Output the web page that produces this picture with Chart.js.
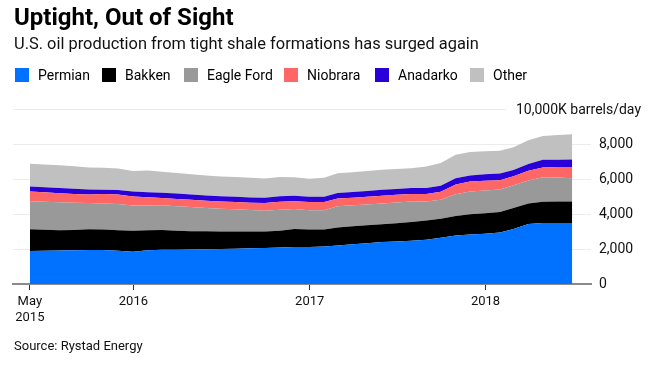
<!DOCTYPE html>
<html>
<head>
<meta charset="utf-8">
<script src="https://cdn.jsdelivr.net/npm/chart.js@4"></script>
<style>
  body { margin: 0; background: #fff; font-family: Roboto, sans-serif; color: #000; }
  #wrap { position: relative; width: 651px; height: 369px; overflow: hidden; }
  #c { position: absolute; left: 0; top: 0; }
  .title { position: absolute; left: 14px; top: 3px; font-size: 24px; font-weight: 700; }
  .sub { position: absolute; left: 14px; top: 34px; font-size: 16.4px; color: #111; }
  .legend { position: absolute; left: 15px; top: 66px; font-size: 14px; }
  .legend span { position: absolute; top: 0; white-space: nowrap; line-height: 18px; }
  .legend i { position: absolute; top: 2px; width: 14px; height: 14px; }
  .src { position: absolute; left: 14px; top: 338px; font-size: 13px; color: #111; }
</style>
</head>
<body>
<div id="wrap">
  <canvas id="c" width="651" height="369"></canvas>
  <div class="title">Uptight, Out of Sight</div>
  <div class="sub">U.S. oil production from tight shale formations has surged again</div>
  <div class="legend" id="legend"></div>
  <div class="src">Source: Rystad Energy</div>
</div>
<script>
// monthly, May 2015 .. Jun 2018 (month-end values), thousand barrels/day
var months = ['2015-05','2015-06','2015-07','2015-08','2015-09','2015-10','2015-11','2015-12',
  '2016-01','2016-02','2016-03','2016-04','2016-05','2016-06','2016-07','2016-08','2016-09','2016-10','2016-11','2016-12',
  '2017-01','2017-02','2017-03','2017-04','2017-05','2017-06','2017-07','2017-08','2017-09','2017-10','2017-11','2017-12',
  '2018-01','2018-02','2018-03','2018-04','2018-05','2018-06'];

var permian   = [1890,1900,1910,1930,1945,1940,1900,1850,1930,1955,1960,1970,1985,2000,2020,2040,2060,2090,2110,2110,
                 2140,2200,2270,2330,2400,2430,2470,2530,2640,2770,2830,2870,2950,3150,3430,3480,3490,3490];
var bakken    = [1245,1200,1160,1150,1180,1170,1175,1190,1140,1125,1090,1050,1025,1000,980,955,945,960,1030,1010,
                 970,1030,1030,1030,1020,1040,1070,1100,1090,1110,1150,1170,1170,1200,1170,1220,1220,1220];
var eagleFord = [1590,1600,1600,1570,1500,1490,1490,1440,1420,1420,1390,1380,1340,1300,1270,1235,1180,1200,1150,1100,
                 1100,1210,1200,1190,1180,1190,1170,1080,1090,1250,1300,1310,1280,1290,1320,1400,1370,1340];
var niobrara  = [555,540,520,500,490,540,550,520,470,420,420,410,410,420,420,420,440,450,440,470,
                 470,440,430,440,440,440,440,440,450,560,580,550,530,520,550,560,600,640];
var anadarko  = [290,290,300,300,285,250,250,280,290,300,310,310,300,300,300,300,310,310,310,300,
                 310,320,330,330,340,330,330,340,350,360,340,370,380,360,390,440,420,420];
var other     = [1305,1300,1290,1280,1260,1250,1240,1180,1230,1200,1170,1150,1140,1130,1120,1120,1100,1100,1060,1030,
                 1080,1130,1120,1140,1150,1140,1140,1220,1290,1340,1350,1320,1310,1290,1360,1360,1410,1450];

var seriesNames = ['Permian','Bakken','Eagle Ford','Niobrara','Anadarko','Other'];
var seriesColors = ['#0072ff','#000000','#999999','#ff6666','#2a00d8','#c0c0c0'];
var yTicks = [0,2000,4000,6000,8000,10000];

function monthEnd(m) {
  var p = m.split('-');
  return Date.UTC(+p[0], +p[1], 0);
}
var xs = months.map(monthEnd);
var xTickVals = [Date.UTC(2015,4,31), Date.UTC(2016,0,1), Date.UTC(2017,0,1), Date.UTC(2018,0,1)];
var xTickLabels = [['May','2015'],'2016','2017','2018'];

var allData = [permian, bakken, eagleFord, niobrara, anadarko, other];
var datasets = allData.map(function (arr, i) {
  return {
    label: seriesNames[i],
    data: arr.map(function (v, j) { return {x: xs[j], y: v}; }),
    backgroundColor: seriesColors[i],
    borderWidth: 0,
    pointRadius: 0,
    fill: i === 0 ? 'origin' : '-1',
    tension: 0
  };
});

// legend
var legendX = [0, 87, 169, 269, 360, 455];
var lg = document.getElementById('legend');
seriesNames.forEach(function (n, i) {
  var s = document.createElement('span');
  s.style.left = legendX[i] + 'px';
  s.innerHTML = '<i style="background:' + seriesColors[i] + '"></i><b style="font-weight:400;margin-left:23px">' + n + '</b>';
  lg.appendChild(s);
});

var unitLabel = {
  id: 'unitLabel',
  afterDraw: function (chart) {
    var ctx = chart.ctx;
    var y = chart.scales.y.getPixelForValue(10000);
    ctx.save();
    ctx.font = '14px Roboto, sans-serif';
    ctx.textAlign = 'right';
    ctx.textBaseline = 'middle';
    var t = '10,000K barrels/day';
    var w = ctx.measureText(t).width;
    ctx.fillStyle = '#fff';
    ctx.fillRect(641 - w - 10, y - 8, w + 10, 16);
    ctx.fillStyle = '#111';
    ctx.fillText(t, 641, y + 1);
    ctx.restore();
  }
};

new Chart(document.getElementById('c'), {
  type: 'line',
  data: { datasets: datasets },
  plugins: [unitLabel],
  options: {
    responsive: false,
    animation: false,
    layout: { padding: { left: 13, top: 109, right: 0, bottom: 0 } },
    plugins: { legend: { display: false }, tooltip: { enabled: false } },
    scales: {
      x: {
        type: 'linear',
        min: Date.UTC(2015,3,26),
        max: Date.UTC(2018,7,8),
        afterBuildTicks: function (s) { s.ticks = xTickVals.map(function (v) { return {value: v}; }); },
        afterFit: function (s) { s.height = 85; },
        ticks: {
          autoSkip: false, maxRotation: 0, padding: 4,
          color: '#111', font: { family: 'Roboto', size: 13 },
          callback: function (v) { return xTickLabels[xTickVals.indexOf(v)]; }
        },
        grid: { drawOnChartArea: false, color: '#333', tickLength: 6 },
        border: { color: '#8a8a8a', width: 2 }
      },
      y: {
        position: 'right',
        stacked: true,
        min: 0, max: 10000,
        afterBuildTicks: function (s) { s.ticks = yTicks.map(function (v) { return {value: v}; }); },
        afterFit: function (s) { s.width = 60; },
        ticks: {
          padding: 8, color: '#111', font: { family: 'Roboto', size: 14 },
          callback: function (v) { return v === 10000 ? '' : v.toLocaleString('en-US'); }
        },
        grid: { color: '#ececec', tickLength: 0, lineWidth: 1 },
        border: { display: false }
      }
    }
  }
});
</script>
</body>
</html>
